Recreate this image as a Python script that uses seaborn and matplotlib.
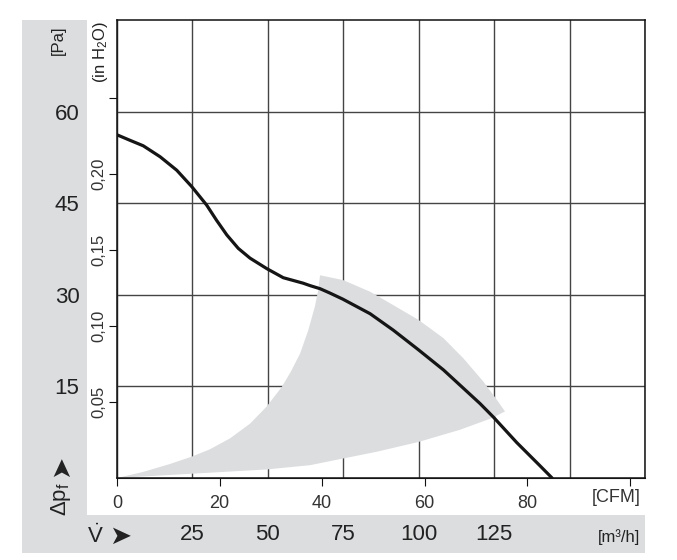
import numpy as np
import pandas as pd
import seaborn as sns
import matplotlib.pyplot as plt
from matplotlib.patches import Rectangle

# fan curve, flow in m3/h, static pressure in Pa
flow = [0, 4.3, 8.7, 14.3, 19.8, 24.8, 29.7, 33.0, 36.4, 40.2, 44.1, 49.6, 55.1,
        61.7, 64.0, 67.3, 70.5, 74.8, 83.9, 91.6, 99.9, 108.2, 114.8, 120.3,
        124.7, 132.5, 140.2, 144.2]
pressure = [56.2, 55.3, 54.4, 52.6, 50.4, 47.7, 44.7, 42.2, 39.8, 37.6, 36.0,
            34.3, 32.8, 31.9, 31.5, 31.0, 30.3, 29.3, 26.9, 24.2, 21.0, 17.7,
            14.7, 12.2, 10.0, 5.8, 2.0, 0]

# grey operating range outline
zone_flow = [0, 8.7, 17.6, 24.8, 30.8, 37.5, 44.1, 49.6, 54.6, 57.6, 60.7,
             63.4, 65.6, 66.7, 67.3,
             75.0, 83.9, 91.6, 99.9, 108.2, 114.8, 121.4, 125.9, 128.6,
             124.2, 113.7, 99.9, 86.1, 75.0, 64.0, 49.6, 24.8, 0]
zone_pressure = [0, 1.0, 2.3, 3.5, 4.7, 6.5, 8.9, 11.7, 14.9, 17.4, 20.4,
                 24.2, 28.1, 30.8, 33.2,
                 32.4, 30.5, 28.3, 25.9, 22.9, 19.6, 15.8, 12.8, 10.9,
                 9.8, 7.9, 5.9, 4.3, 3.2, 2.1, 1.4, 0.7, 0]

m3h_ticks = [0, 25, 50, 75, 100, 125, 150, 175]
m3h_labels = ['', '25', '50', '75', '100', '125', '', '']
pa_ticks = [15, 30, 45, 60]
inh2o_ticks = [0.05, 0.10, 0.15, 0.20, 0.25]
inh2o_labels = ['0,05', '0,10', '0,15', '0,20', '']
cfm_ticks = [0, 20, 40, 60, 80, 100]
cfm_labels = ['0', '20', '40', '60', '80', '']

sns.set_style("white")
plt.rcParams['font.family'] = ['Liberation Sans', 'DejaVu Sans']
plt.rcParams['mathtext.fontset'] = 'custom'
plt.rcParams['mathtext.rm'] = 'Liberation Sans'
plt.rcParams['mathtext.it'] = 'Liberation Sans'
txt = '#222222'
band = '#dcdddf'

fig = plt.figure(figsize=(6.77, 5.60), dpi=100)

# background grey bands (pixel coords)
bg = fig.add_axes([0, 0, 1, 1], zorder=-1)
bg.set_xlim(0, 677)
bg.set_ylim(560, 0)
bg.axis('off')
bg.add_patch(Rectangle((22, 20), 65, 533, color=band, lw=0))
bg.add_patch(Rectangle((22, 515), 623, 38, color=band, lw=0))

ax = fig.add_axes([117 / 677, 82 / 560, 528 / 677, 458 / 560])
ax.set_xlim(0, 175)
ax.set_ylim(0, 75)

ax.fill(zone_flow, zone_pressure, color='#dcdddf', lw=0, zorder=1)
df = pd.DataFrame({'flow': flow, 'pressure': pressure})
sns.lineplot(data=df, x='flow', y='pressure', ax=ax, color='#151515', lw=2.3,
             sort=False, zorder=3)
ax.set_xlabel('')
ax.set_ylabel('')

ax.set_xticks(m3h_ticks)
ax.set_xticklabels(m3h_labels)
ax.set_yticks(pa_ticks)
ax.set_yticklabels([str(v) for v in pa_ticks])
ax.tick_params(axis='x', length=0, pad=33, labelsize=16, labelcolor=txt)
ax.tick_params(axis='y', length=0, pad=27, labelsize=16, labelcolor=txt)
ax.grid(True, color='#444444', lw=1.0, zorder=2)
for s in ax.spines.values():
    s.set_color('#111111')
    s.set_linewidth(1.1)

# in H2O scale on the left
sec_y = ax.secondary_yaxis('left', functions=(lambda p: p / 249.09,
                                              lambda h: h * 249.09))
sec_y.set_yticks(inh2o_ticks)
sec_y.set_yticklabels(inh2o_labels)
sec_y.tick_params(length=6, direction='out', pad=2, labelsize=12,
                  labelcolor='#333333', color='#111111')
for lbl in sec_y.get_yticklabels():
    lbl.set_rotation(90)
    lbl.set_va('center')

# CFM scale on the bottom
sec_x = ax.secondary_xaxis('bottom', functions=(lambda q: q / 1.699,
                                                lambda c: c * 1.699))
sec_x.set_xticks(cfm_ticks)
sec_x.set_xticklabels(cfm_labels)
sec_x.tick_params(length=6, direction='out', pad=6, labelsize=13,
                  labelcolor='#333333', color='#111111')

# labels
bg.text(58, 40, '[Pa]', rotation=90, ha='center', va='center', fontsize=12, color=txt)
bg.text(100, 52, '(in H$_2$O)', rotation=90, ha='center', va='center',
        fontsize=12, color=txt)
bg.text(61, 499, 'Δp$_\\mathrm{f}$', rotation=90, ha='center', va='center',
        fontsize=16, color=txt)
bg.text(61, 466, '➤', rotation=90, ha='center', va='center', fontsize=19, color=txt)
bg.text(95, 536, '$\\dot{\\mathrm{V}}$', ha='center', va='center', fontsize=16, color=txt)
bg.text(120, 537, '➤', ha='center', va='center', fontsize=19, color=txt)
bg.text(640, 537, '[m³/h]', ha='right', va='center', fontsize=12, color=txt)
bg.text(641, 498, '[CFM]', ha='right', va='center', fontsize=13, color='#333333')

fig.savefig('out.png', dpi=100)
